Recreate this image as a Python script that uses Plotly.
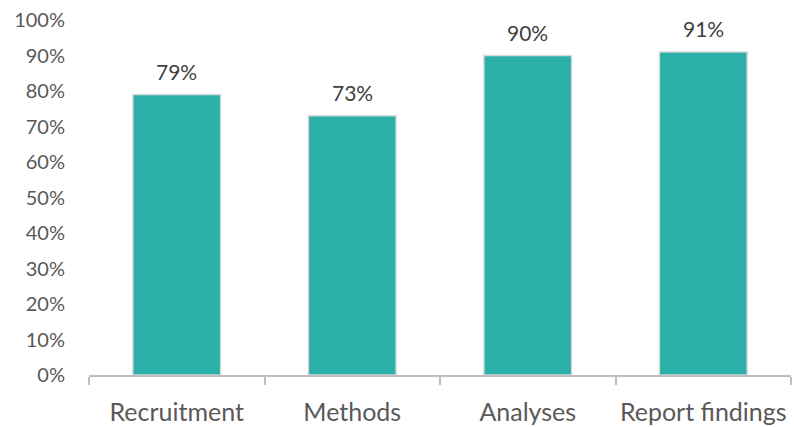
import plotly.graph_objects as go

categories = ["Recruitment", "Methods", "Analyses", "Report findings"]
values = [79, 73, 90, 91]
y_ticks = [0, 10, 20, 30, 40, 50, 60, 70, 80, 90, 100]
y_tick_labels = [f"{v}%" for v in y_ticks]

fig = go.Figure()
fig.add_trace(go.Bar(
    x=categories,
    y=values,
    marker=dict(color="#2AAFA9", line=dict(color="#D9D9D9", width=1.5)),
    width=0.5,
))

for c, v in zip(categories, values):
    fig.add_annotation(
        x=c, y=v, text=f"{v}%", showarrow=False,
        yanchor="bottom", yshift=9,
        font=dict(family="Lato", size=21, color="#404040"),
    )

fig.update_layout(
    width=794, height=427,
    margin=dict(l=89, r=3, t=20, b=52, autoexpand=False),
    plot_bgcolor="white", paper_bgcolor="white",
    showlegend=False,
    font=dict(family="Lato", color="#595959"),
)
fig.update_xaxes(
    showline=True, linecolor="#BFBFBF", linewidth=1.5,
    ticks="outside", tickson="boundaries", ticklen=8, tickcolor="#BFBFBF", tickwidth=1.5,
    tickfont=dict(size=25, color="#595959"),
    tickangle=0, automargin=False,
    ticklabelstandoff=14,
    showgrid=False,
)
fig.update_yaxes(
    range=[0, 100], tickvals=y_ticks, ticktext=y_tick_labels,
    showgrid=False, showline=False, zeroline=False,
    tickfont=dict(size=20, color="#595959"),
    automargin=False,
    ticklabelstandoff=23,
)

fig.write_html("out.html")
